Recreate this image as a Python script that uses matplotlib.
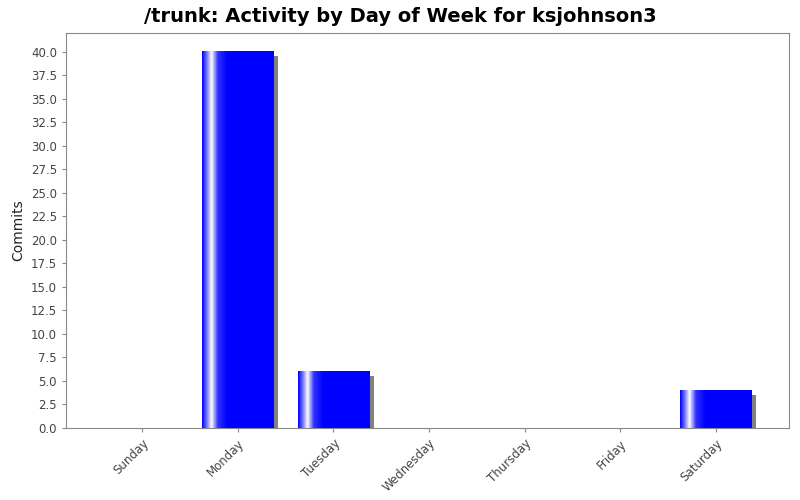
import numpy as np
import matplotlib
matplotlib.use('Agg')
import matplotlib.pyplot as plt
from matplotlib.colors import LinearSegmentedColormap

days = ['Sunday', 'Monday', 'Tuesday', 'Wednesday', 'Thursday', 'Friday', 'Saturday']
commits = [0, 40, 6, 0, 0, 0, 4]

fig = plt.figure(figsize=(8, 5), dpi=100)
ax = fig.add_axes([0.0825, 0.144, 0.904, 0.79])
ax.set_facecolor('white')

width = 0.75
# bar gradient: blue -> white highlight -> blue
cmap = LinearSegmentedColormap.from_list('bar', [(0, '#0000ff'), (0.07, '#8080ff'), (0.13, '#ffffff'), (0.22, '#3030ff'), (0.35, '#0000ff'), (1, '#0000ff')])
grad = np.linspace(0, 1, 200).reshape(1, -1)

for i, v in enumerate(commits):
    if v <= 0:
        continue
    # shadow
    ax.bar(i + 0.045, v, width=width, bottom=-0.45, color='#808080', zorder=1)
    ax.imshow(grad, cmap=cmap, aspect='auto', zorder=2,
              extent=(i - width / 2, i + width / 2, 0, v))

ax.set_xlim(-0.8, 6.77)
ax.set_ylim(0, 42)
ax.set_yticks(np.arange(0, 40.1, 2.5))
ax.set_yticklabels(['%.1f' % t for t in np.arange(0, 40.1, 2.5)], fontsize=8.5, color='#444444')
ax.set_xticks(range(len(days)))
ax.set_xticklabels(days, rotation=45, ha='right', rotation_mode='anchor', fontsize=8.5, color='#444444')
ax.set_ylabel('Commits', fontsize=10, color='#222222')
for s in ax.spines.values():
    s.set_color('#888888')
ax.tick_params(colors='#888888', labelcolor='#444444', length=3)
fig.suptitle('/trunk: Activity by Day of Week for ksjohnson3', fontsize=14, fontweight='bold', y=0.985)

fig.savefig('out.png', dpi=100)
